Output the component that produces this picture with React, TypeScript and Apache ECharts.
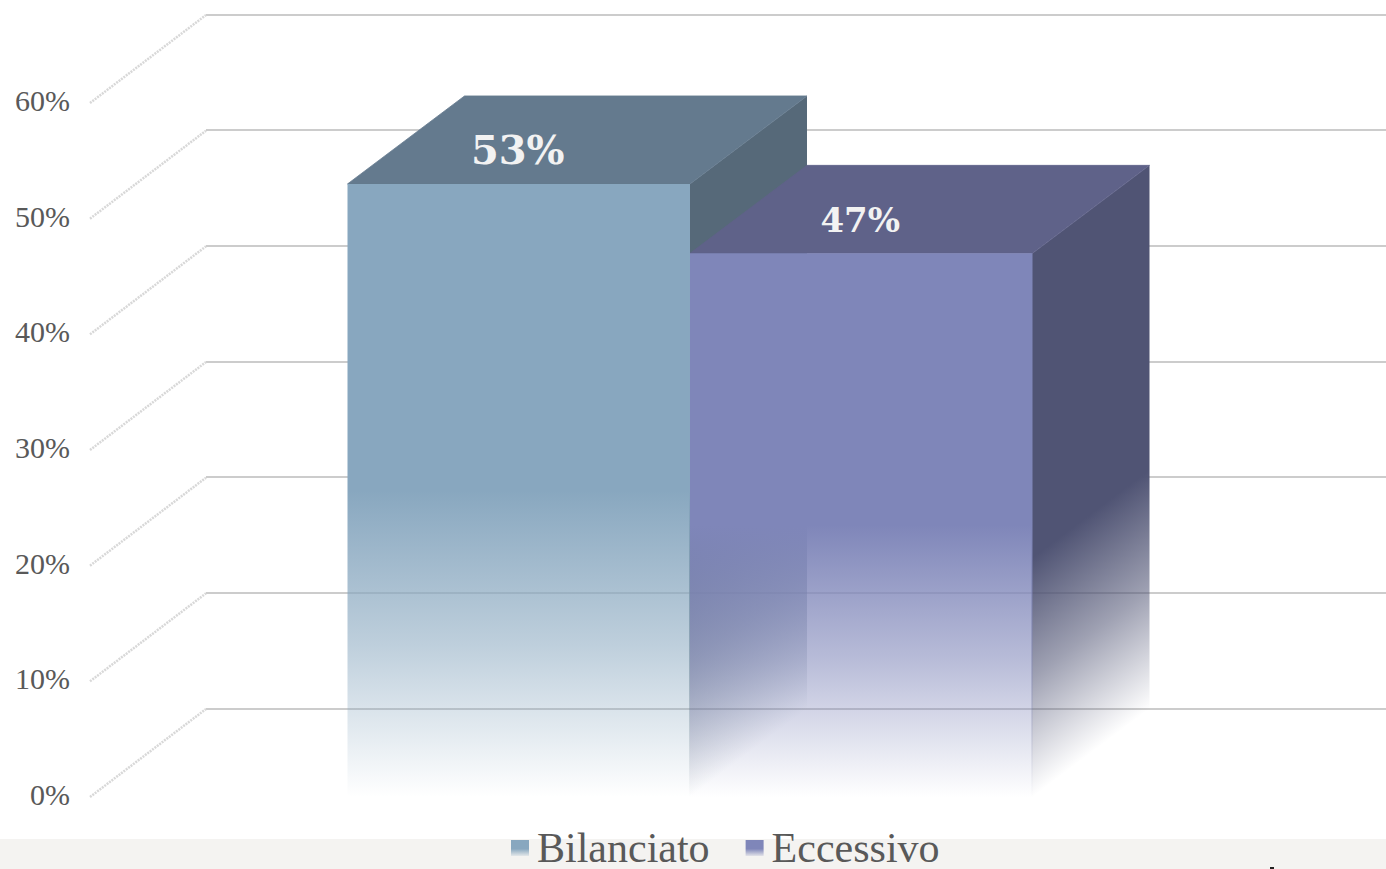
import React, { useEffect, useRef } from "react";
import * as echarts from "echarts";

const categories = [""];
const seriesNames = ["Bilanciato", "Eccessivo"];
const bilanciatoValues = [53];
const eccessivoValues = [47];
const yTicks = [0, 10, 20, 30, 40, 50, 60];
const yMax = 60;
const yInterval = 10;

const FONT = "'Liberation Serif', serif";
const LABEL_FONT = "'DejaVu Serif', serif";
const DEPTH_X = 117;
const DEPTH_Y = 88;
const BAR_RATIO = 342.5 / 1200;

const fade = (rgb: string, solidUntil: number) => [
  { offset: 0, color: `rgba(${rgb},1)` },
  { offset: solidUntil, color: `rgba(${rgb},1)` },
  { offset: (solidUntil + 1) / 2, color: `rgba(${rgb},0.55)` },
  { offset: 1, color: `rgba(${rgb},0)` },
];

const palettes = [
  { front: "136,167,191", top: "#647a8e", side: "86,105,121", labelSize: 40, labelDy: -34 },
  { front: "127,134,185", top: "#5f6289", side: "80,84,116", labelSize: 34, labelDy: -33 },
];

const barRenderer = (index: number) => (_params: any, api: any) => {
  const p = palettes[index];
  const value = api.value(1);
  const [cx, yTop] = api.coord([api.value(0), value]);
  const [, yBase] = api.coord([api.value(0), 0]);
  const w = api.size([1, 0])[0] * BAR_RATIO;
  const x0 = index === 0 ? cx - w : cx;
  const x1 = x0 + w;
  const h = yBase - yTop;
  const nLen = Math.hypot(DEPTH_X, DEPTH_Y);
  const nx = DEPTH_Y / nLen;
  const ny = DEPTH_X / nLen;
  const d = h * ny;
  return {
    type: "group",
    children: [
      {
        type: "polygon",
        shape: {
          points: [
            [x1 - 1, yTop],
            [x1, yTop],
            [x1 + DEPTH_X, yTop - DEPTH_Y],
            [x1 + DEPTH_X, yBase - DEPTH_Y],
            [x1, yBase],
            [x1 - 1, yBase],
          ],
        },
        style: {
          fill: {
            type: "linear",
            global: true,
            x: x1,
            y: yTop,
            x2: x1 + nx * d,
            y2: yTop + ny * d,
            colorStops: fade(p.side, 0.56),
          },
        },
      },
      {
        type: "polygon",
        shape: { points: [[x0, yTop], [x0 + DEPTH_X, yTop - DEPTH_Y], [x1 + DEPTH_X, yTop - DEPTH_Y], [x1, yTop]] },
        style: { fill: p.top, stroke: p.top, lineWidth: 0.8 },
      },
      {
        type: "rect",
        shape: { x: x0, y: yTop, width: w, height: h },
        style: {
          fill: { type: "linear", x: 0, y: 0, x2: 0, y2: 1, colorStops: fade(p.front, 0.5) },
        },
      },
      {
        type: "text",
        style: {
          text: `${value}%`,
          x: (x0 + x1) / 2 - 1,
          y: yTop + p.labelDy,
          align: "center",
          verticalAlign: "middle",
          fill: "#f2f2f2",
          fontFamily: LABEL_FONT,
          fontWeight: "bold",
          fontSize: p.labelSize,
        },
      },
    ],
  };
};

const depthLineRenderer = (params: any, api: any) => {
  const [, y] = api.coord([0, api.value(1)]);
  const left = params.coordSys.x;
  return {
    type: "line",
    shape: { x1: left, y1: y, x2: left + 116, y2: y - DEPTH_Y },
    style: { stroke: "#d8d8d8", lineWidth: 2.5, lineDash: [2, 1], fill: "none" },
    silent: true,
  };
};

const swatch = (rgb: string) => ({
  type: "linear",
  x: 0,
  y: 0,
  x2: 0,
  y2: 1,
  colorStops: [
    { offset: 0, color: `rgba(${rgb},1)` },
    { offset: 0.55, color: `rgba(${rgb},1)` },
    { offset: 1, color: `rgba(${rgb},0.15)` },
  ],
});

export default function App() {
  const ref = useRef<HTMLDivElement>(null);
  useEffect(() => {
    document.body.style.margin = "0";
    document.body.style.overflow = "hidden";
    const chart = echarts.init(ref.current!, null, { renderer: "svg" });
    chart.setOption({
      animation: false,
      backgroundColor: "#ffffff",
      graphic: [
        { type: "rect", z: -1, shape: { x: 0, y: 839, width: 1386, height: 30 }, style: { fill: "#f4f3f1" } },
        { type: "rect", z: -1, shape: { x: 1270, y: 867, width: 4, height: 2 }, style: { fill: "#222222" } },
      ],
      legend: {
        left: 506,
        top: 822,
        padding: 5,
        itemWidth: 18,
        itemHeight: 16,
        itemGap: 36,
        icon: "rect",
        data: [
          { name: seriesNames[0], itemStyle: { color: swatch(palettes[0].front) } },
          { name: seriesNames[1], itemStyle: { color: swatch(palettes[1].front) } },
        ],
        textStyle: { fontFamily: FONT, fontSize: 42, color: "#595959", padding: [0, 0, 8, 3] },
      },
      grid: [
        { left: 90, top: 103, width: 1200, height: 694 },
        { left: 206, top: 14.5, width: 1180, height: 694 },
      ],
      xAxis: [
        { type: "category", data: categories, gridIndex: 0, show: false },
        { type: "category", data: categories, gridIndex: 1, show: false },
      ],
      yAxis: [
        {
          type: "value",
          gridIndex: 0,
          min: 0,
          max: yMax,
          interval: yInterval,
          axisLine: { show: false },
          axisTick: { show: false },
          splitLine: { show: false },
          axisLabel: {
            formatter: "{v|{value}%}",
            margin: 20,
            rich: {
              v: {
                fontFamily: FONT,
                fontSize: 30,
                color: "#595959",
                padding: [0, 0, 5, 0],
              },
            },
          },
        },
        {
          type: "value",
          gridIndex: 1,
          min: 0,
          max: yMax,
          interval: yInterval,
          axisLine: { show: false },
          axisTick: { show: false },
          axisLabel: { show: false },
          splitLine: { show: true, lineStyle: { color: "#cccccc", width: 2 } },
        },
      ],
      series: [
        {
          type: "custom",
          name: "depth",
          xAxisIndex: 0,
          yAxisIndex: 0,
          clip: false,
          silent: true,
          renderItem: depthLineRenderer,
          data: yTicks.map((t) => [0, t]),
          z: 1,
        },
        {
          type: "custom",
          name: seriesNames[0],
          xAxisIndex: 0,
          yAxisIndex: 0,
          clip: false,
          renderItem: barRenderer(0),
          data: bilanciatoValues.map((v, i) => [i, v]),
          z: 2,
        },
        {
          type: "custom",
          name: seriesNames[1],
          xAxisIndex: 0,
          yAxisIndex: 0,
          clip: false,
          renderItem: barRenderer(1),
          data: eccessivoValues.map((v, i) => [i, v]),
          z: 3,
        },
      ],
    });
    return () => chart.dispose();
  }, []);
  return <div ref={ref} style={{ position: "absolute", left: 0, top: 0, width: 1386, height: 869 }} />;
}
